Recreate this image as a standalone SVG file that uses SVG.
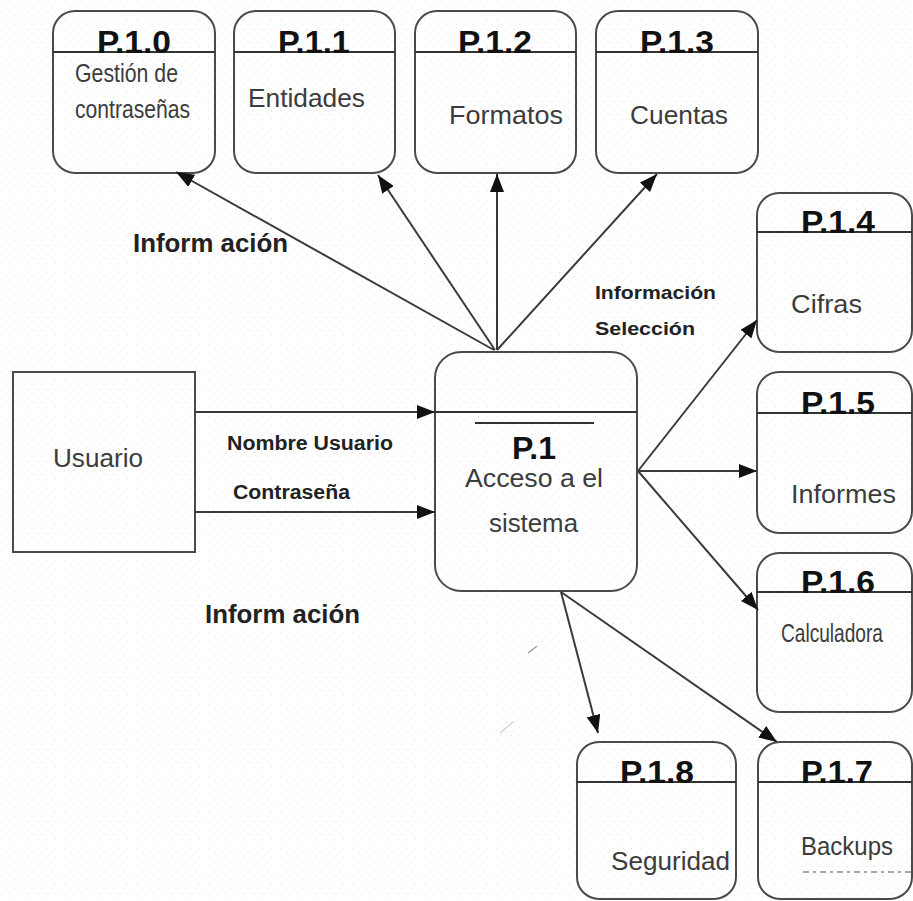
<svg xmlns="http://www.w3.org/2000/svg" width="913" height="901" viewBox="0 0 913 901">
  <defs>
    <pattern id="dots" width="9" height="9" patternUnits="userSpaceOnUse">
      <rect x="1" y="2" width="1" height="1" fill="#f3d6f0"/>
      <rect x="6" y="6" width="1" height="1" fill="#d6f0f3"/>
    </pattern>
    <marker id="arrow" viewBox="0 0 18 14" markerWidth="18" markerHeight="14" refX="18" refY="7" orient="auto" markerUnits="userSpaceOnUse">
      <path d="M0,0 L18,7 L0,14 Z" fill="#111"/>
    </marker>
  </defs>
  <style>
    .box { fill: none; stroke: #4a4a4a; stroke-width: 2; }
    .sep { stroke: #333; stroke-width: 2; }
    .hdr { font-family: "Liberation Sans", Arial, sans-serif; font-weight: bold; font-size: 32px; fill: #111; text-anchor: middle; }
    .body { font-family: "Liberation Sans", Arial, sans-serif; font-size: 25px; fill: #3c3c3c; }
    .lbl { font-family: "Liberation Sans", Arial, sans-serif; font-weight: bold; fill: #222; }
    .flow { stroke: #3a3a3a; stroke-width: 2; fill: none; marker-end: url(#arrow); }
  </style>

  <rect width="913" height="901" fill="#ffffff"/>
  <rect width="913" height="901" fill="url(#dots)"/>

  <!-- external entity -->
  <g id="usuario">
    <rect class="box" x="13" y="372" width="182" height="180"/>
    <text class="body" x="53" y="467" textLength="90" lengthAdjust="spacingAndGlyphs">Usuario</text>
  </g>

  <!-- central process -->
  <g id="p1">
    <rect class="box" x="435" y="352" width="202" height="239" rx="26"/>
    <line class="sep" x1="435" y1="412" x2="637" y2="412"/>
    <line class="sep" x1="475" y1="423" x2="594" y2="423"/>
    <text class="hdr" x="534" y="459" font-size="29">P.1</text>
    <text class="body" x="465" y="487" textLength="138" lengthAdjust="spacingAndGlyphs">Acceso a el</text>
    <text class="body" x="489" y="532" textLength="89" lengthAdjust="spacingAndGlyphs">sistema</text>
  </g>

  <!-- sub-processes, top row -->
  <g id="p10">
    <rect class="box" x="53" y="11" width="162" height="162" rx="22"/>
    <line class="sep" x1="53" y1="52" x2="215" y2="52"/>
    <text class="hdr" x="134" y="53" textLength="74" lengthAdjust="spacingAndGlyphs">P.1.0</text>
    <text class="body" x="75" y="82" font-size="19" textLength="103" lengthAdjust="spacingAndGlyphs">Gestión de</text>
    <text class="body" x="75" y="118" font-size="19" textLength="115" lengthAdjust="spacingAndGlyphs">contraseñas</text>
  </g>
  <g id="p11">
    <rect class="box" x="234" y="11" width="161" height="162" rx="22"/>
    <line class="sep" x1="234" y1="52" x2="395" y2="52"/>
    <text class="hdr" x="314" y="53" textLength="72" lengthAdjust="spacingAndGlyphs">P.1.1</text>
    <text class="body" x="248" y="107" textLength="117" lengthAdjust="spacingAndGlyphs">Entidades</text>
  </g>
  <g id="p12">
    <rect class="box" x="415" y="11" width="161" height="162" rx="22"/>
    <line class="sep" x1="415" y1="52" x2="576" y2="52"/>
    <text class="hdr" x="495" y="53" textLength="74" lengthAdjust="spacingAndGlyphs">P.1.2</text>
    <text class="body" x="449" y="124" textLength="114" lengthAdjust="spacingAndGlyphs">Formatos</text>
  </g>
  <g id="p13">
    <rect class="box" x="596" y="11" width="162" height="162" rx="22"/>
    <line class="sep" x1="596" y1="52" x2="758" y2="52"/>
    <text class="hdr" x="677" y="53" textLength="74" lengthAdjust="spacingAndGlyphs">P.1.3</text>
    <text class="body" x="630" y="124" textLength="98" lengthAdjust="spacingAndGlyphs">Cuentas</text>
  </g>

  <!-- sub-processes, right column -->
  <g id="p14">
    <rect class="box" x="757" y="193" width="155" height="159" rx="22"/>
    <line class="sep" x1="757" y1="232" x2="912" y2="232"/>
    <text class="hdr" x="838" y="233" textLength="74" lengthAdjust="spacingAndGlyphs">P.1.4</text>
    <text class="body" x="791" y="313" textLength="71" lengthAdjust="spacingAndGlyphs">Cifras</text>
  </g>
  <g id="p15">
    <rect class="box" x="757" y="372" width="155" height="161" rx="22"/>
    <line class="sep" x1="757" y1="413" x2="912" y2="413"/>
    <text class="hdr" x="838" y="414" textLength="74" lengthAdjust="spacingAndGlyphs">P.1.5</text>
    <text class="body" x="791" y="503" textLength="105" lengthAdjust="spacingAndGlyphs">Informes</text>
  </g>
  <g id="p16">
    <rect class="box" x="757" y="553" width="155" height="159" rx="22"/>
    <line class="sep" x1="757" y1="592" x2="912" y2="592"/>
    <text class="hdr" x="838" y="593" textLength="74" lengthAdjust="spacingAndGlyphs">P.1.6</text>
    <text class="body" x="781" y="642" font-size="17" fill="#111" textLength="102" lengthAdjust="spacingAndGlyphs">Calculadora</text>
  </g>
  <g id="p17">
    <rect class="box" x="758" y="742" width="154" height="157" rx="22"/>
    <line class="sep" x1="758" y1="782" x2="912" y2="782"/>
    <text class="hdr" x="837" y="783" textLength="72" lengthAdjust="spacingAndGlyphs">P.1.7</text>
    <text class="body" x="801" y="855" font-size="24" fill="#111" textLength="92" lengthAdjust="spacingAndGlyphs">Backups</text>
    <line x1="803" y1="872" x2="912" y2="872" stroke="#8a8a8a" stroke-width="1.5" stroke-dasharray="6 4 3 4"/>
  </g>
  <g id="p18">
    <rect class="box" x="577" y="742" width="159" height="157" rx="22"/>
    <line class="sep" x1="577" y1="782" x2="736" y2="782"/>
    <text class="hdr" x="657" y="783" textLength="74" lengthAdjust="spacingAndGlyphs">P.1.8</text>
    <text class="body" x="611" y="870" textLength="119" lengthAdjust="spacingAndGlyphs">Seguridad</text>
  </g>

  <!-- data flows -->
  <g id="connectors">
    <line class="flow" x1="195" y1="412" x2="435" y2="412"/>
    <line class="flow" x1="195" y1="512" x2="435" y2="512"/>
    <line class="flow" x1="494" y1="350" x2="176" y2="172"/>
    <line class="flow" x1="495" y1="350" x2="378" y2="175"/>
    <line class="flow" x1="497" y1="350" x2="497" y2="174"/>
    <line class="flow" x1="497" y1="350" x2="657" y2="174"/>
    <line class="flow" x1="638" y1="471" x2="757" y2="320"/>
    <line class="flow" x1="638" y1="471" x2="757" y2="471"/>
    <line class="flow" x1="638" y1="471" x2="758" y2="610"/>
    <line class="flow" x1="561" y1="592" x2="598" y2="733"/>
    <line class="flow" x1="561" y1="592" x2="777" y2="742"/>
    <!-- stray pen marks -->
    <line x1="528" y1="653" x2="537" y2="646" stroke="#9a9a9a" stroke-width="1.2"/>
    <line x1="500" y1="733" x2="513" y2="722" stroke="#b0b0b0" stroke-width="1"/>
  </g>

  <!-- flow labels -->
  <g id="labels">
    <text class="lbl" x="133" y="252" font-size="25" textLength="155" lengthAdjust="spacingAndGlyphs">Inform ación</text>
    <text class="lbl" x="595" y="299" font-size="19" textLength="121" lengthAdjust="spacingAndGlyphs">Información</text>
    <text class="lbl" x="595" y="335" font-size="19" textLength="100" lengthAdjust="spacingAndGlyphs">Selección</text>
    <text class="lbl" x="227" y="450" font-size="20" textLength="166" lengthAdjust="spacingAndGlyphs">Nombre Usuario</text>
    <text class="lbl" x="233" y="499" font-size="20" textLength="117" lengthAdjust="spacingAndGlyphs">Contraseña</text>
    <text class="lbl" x="205" y="623" font-size="25" textLength="155" lengthAdjust="spacingAndGlyphs">Inform ación</text>
  </g>
</svg>
